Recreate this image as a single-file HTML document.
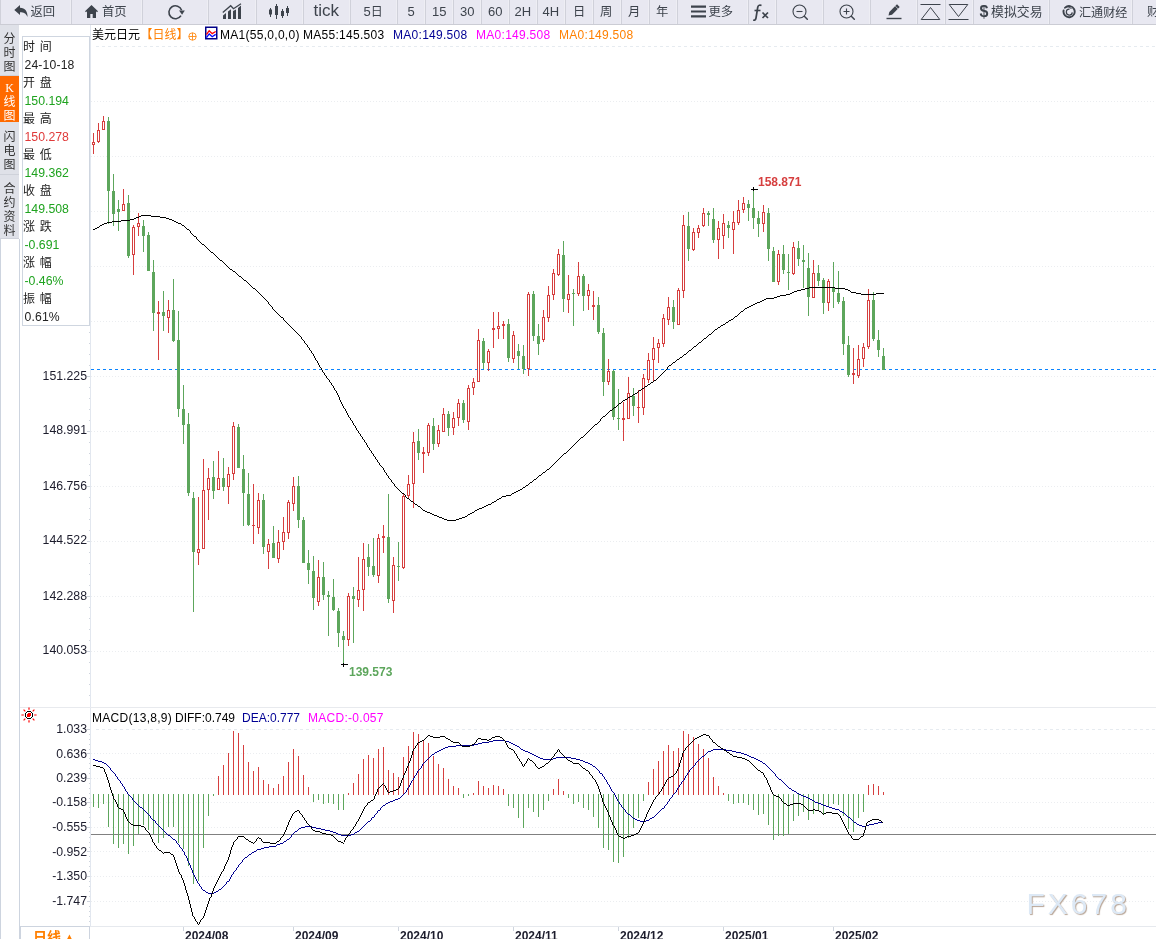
<!DOCTYPE html>
<html lang="zh-CN"><head><meta charset="utf-8"><title>美元日元 日线</title>
<style>
*{box-sizing:border-box;margin:0;padding:0}
html,body{width:1156px;height:939px;overflow:hidden;background:#fff}
body{position:relative;font-family:"Liberation Sans","Noto Sans CJK SC",sans-serif;font-size:12px;color:#111}
.chart{position:absolute;left:0;top:0}
.tb{position:absolute;left:0;top:0;width:1156px;height:25px;background:#e8e8f1;border-bottom:1px solid #cbccd4;overflow:hidden}
.b{position:absolute;top:0;height:24px;background:#e8e8f1;border-left:1px solid #d0d1da;border-right:1px solid #eeeef4}
.tb span{position:absolute;top:-.4px;height:24px;line-height:24px;color:#3d434c;font-size:12.3px;white-space:nowrap}
.tb svg{position:absolute;display:block}
.tb .en{font-size:17px;line-height:22px}
.tb .nm{font-size:13px;line-height:23px}
.tb .nm u{font-size:12px;text-decoration:none}
.tb .dl{font-size:16px;font-weight:bold;line-height:23px}
.tb .cn{font-size:12.9px}
.tb .c2{font-size:12.1px;top:.5px}
.sb{position:absolute;left:0;top:25px;width:20px;height:914px}
.tab{position:absolute;left:0;width:19px;background:#dfe1e8;color:#333;text-align:center;top:0;border-bottom:1px solid #cfd2da;display:flex;flex-direction:column;justify-content:center;padding-top:5px}
.tab b{display:block;font-weight:normal;font-size:12px;line-height:14px;height:14px}
.tab.on{background:#ff6a00;color:#fff;border-bottom:0}
.tab .k{font-family:"Liberation Serif",serif}
.sbw{position:absolute;left:0;top:214px;width:20px;height:700px;border-left:1px solid #cdd4df;border-right:1px solid #cdd4df;background:#fff}
.info{position:absolute;left:22px;top:36px;width:68px;height:290px;border:1px solid #cfd6e0;background:#fff;padding-top:1px}
.info div{height:18px;line-height:18px;white-space:nowrap;font-size:12px;padding-left:0}
.info .l{color:#222;word-spacing:1.5px}
.info .n{color:#222;padding-left:1.5px;font-size:12.2px;letter-spacing:.15px}
.info .g{color:#1fa31f;padding-left:1.5px;font-size:12.3px}
.info .r{color:#e03a3a;padding-left:1.5px;font-size:12.3px}
.title,.mt{position:absolute;left:0;top:25px;width:1156px;height:20px}
.title span,.mt span{position:absolute;top:3px;line-height:14px;font-size:12px;white-space:nowrap;color:#000;letter-spacing:.28px}
.title span.c{letter-spacing:0;top:2.7px}
.mt{top:708px}
.yl{position:absolute;left:20px;width:67px;text-align:right;font-size:12.3px;line-height:16px;height:16px;color:#1c1c2c}
.xl{position:absolute;top:927.5px;font-size:12px;font-weight:bold;line-height:16px;color:#1c1c2c}
.hi,.lo{position:absolute;font-weight:bold;font-size:12px;line-height:14px}
.hi{left:758px;top:175px;color:#d63f3f}
.lo{left:349px;top:665px;color:#5da65c}
.wm{position:absolute;left:1026.5px;top:886px;font-size:30px;line-height:36px;letter-spacing:3px;color:#dde9f6;text-shadow:1px 1px 1px #b8a596}
.per{position:absolute;left:20px;top:926px;width:70px;height:13px;border:1px solid #cdd4df;border-bottom:0;color:#ff7f00;font-weight:bold;font-size:14px;line-height:20px;padding-left:12px;white-space:nowrap;overflow:hidden}
.per .tri{font-size:13px;margin-left:2px}
</style></head>
<body>
<svg class="chart" width="1156" height="939" viewBox="0 0 1156 939" shape-rendering="crispEdges"><path d="M96 46.5H1156" stroke="#e6ebf0" stroke-dasharray="3 3"/>
<path d="M91 101.5H1156" stroke="#ebedf0" stroke-dasharray="1 2"/>
<path d="M91 156.5H1156" stroke="#ebedf0" stroke-dasharray="1 2"/>
<path d="M91 211.5H1156" stroke="#ebedf0" stroke-dasharray="1 2"/>
<path d="M91 266.5H1156" stroke="#ebedf0" stroke-dasharray="1 2"/>
<path d="M91 321.5H1156" stroke="#ebedf0" stroke-dasharray="1 2"/>
<path d="M91 376.5H1156" stroke="#ebedf0" stroke-dasharray="1 2"/>
<path d="M91 431.5H1156" stroke="#ebedf0" stroke-dasharray="1 2"/>
<path d="M91 486.5H1156" stroke="#ebedf0" stroke-dasharray="1 2"/>
<path d="M91 541.5H1156" stroke="#ebedf0" stroke-dasharray="1 2"/>
<path d="M91 596.5H1156" stroke="#ebedf0" stroke-dasharray="1 2"/>
<path d="M91 651.5H1156" stroke="#ebedf0" stroke-dasharray="1 2"/>
<path d="M96 729.5H1156" stroke="#e6ebf0" stroke-dasharray="3 3"/>
<path d="M91 753.5H1156" stroke="#ebedf0" stroke-dasharray="1 2"/>
<path d="M91 778.5H1156" stroke="#ebedf0" stroke-dasharray="1 2"/>
<path d="M91 802.5H1156" stroke="#ebedf0" stroke-dasharray="1 2"/>
<path d="M91 827.5H1156" stroke="#ebedf0" stroke-dasharray="1 2"/>
<path d="M91 851.5H1156" stroke="#ebedf0" stroke-dasharray="1 2"/>
<path d="M91 876.5H1156" stroke="#ebedf0" stroke-dasharray="1 2"/>
<path d="M91 901.5H1156" stroke="#ebedf0" stroke-dasharray="1 2"/>
<path d="M90.5 25V926" stroke="#e2e7ef"/>
<path d="M20 707.5H1156" stroke="#e8eaee"/>
<path d="M90 926.5H1156" stroke="#e6e9ee"/>
<path d="M89 332.5H90 M89 343.5H90 M89 354.5H90 M89 365.5H90 M87 376.5H90 M89 387.5H90 M89 398.5H90 M89 409.5H90 M89 420.5H90 M87 431.5H90 M89 442.5H90 M89 453.5H90 M89 464.5H90 M89 475.5H90 M87 486.5H90 M89 497.5H90 M89 508.5H90 M89 519.5H90 M89 530.5H90 M87 541.5H90 M89 552.5H90 M89 563.5H90 M89 574.5H90 M89 585.5H90 M87 596.5H90 M89 607.5H90 M89 618.5H90 M89 629.5H90 M89 640.5H90 M87 651.5H90 M89 662.5H90 M89 673.5H90 M89 684.5H90 M89 695.5H90 M87 729.5H90 M89 734.5H90 M89 739.5H90 M89 744.5H90 M89 749.5H90 M87 753.5H90 M89 758.5H90 M89 763.5H90 M89 768.5H90 M89 773.5H90 M87 778.5H90 M89 783.5H90 M89 788.5H90 M89 793.5H90 M89 798.5H90 M87 802.5H90 M89 807.5H90 M89 812.5H90 M89 817.5H90 M89 822.5H90 M87 827.5H90 M89 832.5H90 M89 837.5H90 M89 842.5H90 M89 847.5H90 M87 851.5H90 M89 856.5H90 M89 861.5H90 M89 866.5H90 M89 871.5H90 M87 876.5H90 M89 881.5H90 M89 886.5H90 M89 891.5H90 M89 896.5H90 M87 901.5H90 M89 906.5H90 M89 911.5H90 M89 916.5H90 M89 921.5H90" stroke="#cfd5de"/>
<path d="M183.5 927V931 M293.5 927V931 M398.5 927V931 M513.5 927V931 M618.5 927V931 M723.5 927V931 M833.5 927V931" stroke="#cfd5de"/>
<path d="M91 369.5H1156" stroke="#0a84ff" stroke-dasharray="3 3"/>
<path d="M91 834.5H1156" stroke="#808080"/>
<path d="M108.5 117V224 M113.5 174V226 M118.5 200V231 M128.5 195V258 M143.5 220V252 M148.5 232V271 M153.5 260V331 M163.5 291V331 M173.5 279V342 M178.5 311V417 M183.5 385V444 M188.5 413V496 M193.5 492V612 M213.5 461V499 M223.5 458V491 M238.5 424V468 M243.5 455V526 M248.5 473V526 M263.5 494V554 M273.5 526V558 M298.5 476V528 M303.5 517V563 M308.5 550V584 M313.5 556V610 M323.5 562V600 M328.5 591V636 M333.5 579V611 M338.5 608V647 M343.5 631V664 M353.5 587V643 M368.5 544V576 M373.5 538V577 M388.5 494V603 M398.5 542V581 M418.5 429V460 M433.5 418V450 M448.5 411V436 M463.5 400V423 M483.5 338V369 M508.5 319V362 M518.5 344V369 M523.5 345V374 M533.5 291V341 M538.5 324V355 M563.5 241V312 M573.5 289V326 M583.5 274V311 M598.5 297V334 M603.5 328V396 M613.5 370V420 M618.5 389V430 M633.5 388V416 M673.5 300V329 M688.5 212V261 M708.5 211V226 M713.5 208V243 M728.5 221V238 M748.5 200V221 M753.5 189V229 M758.5 211V237 M768.5 208V261 M773.5 247V282 M783.5 245V274 M788.5 254V290 M798.5 241V266 M803.5 245V288 M808.5 253V316 M818.5 265V286 M823.5 278V314 M833.5 262V308 M838.5 271V304 M843.5 297V355 M848.5 336V377 M873.5 292V341 M878.5 330V357 M883.5 348V370" stroke="#5da65c" fill="none"/>
<path d="M107 121h3V191h-3z M112 191h3V214h-3z M117 209h3V212h-3z M127 203h3V256h-3z M142 226h3V236h-3z M147 235h3V271h-3z M152 272h3V313h-3z M162 312h3V316h-3z M172 310h3V341h-3z M177 340h3V409h-3z M182 409h3V425h-3z M187 424h3V493h-3z M192 498h3V552h-3z M212 477h3V491h-3z M222 478h3V487h-3z M237 427h3V468h-3z M242 469h3V493h-3z M247 494h3V525h-3z M262 500h3V547h-3z M272 543h3V558h-3z M297 486h3V520h-3z M302 520h3V563h-3z M307 563h3V570h-3z M312 571h3V598h-3z M322 577h3V595h-3z M327 595h3V597h-3z M332 597h3V610h-3z M337 611h3V633h-3z M342 636h3V640h-3z M352 596h3V599h-3z M367 557h3V567h-3z M372 566h3V575h-3z M387 537h3V599h-3z M397 566h3V567h-3z M417 441h3V453h-3z M432 426h3V444h-3z M447 414h3V428h-3z M462 403h3V420h-3z M482 341h3V363h-3z M507 324h3V358h-3z M517 351h3V356h-3z M522 356h3V369h-3z M532 294h3V336h-3z M537 336h3V344h-3z M562 255h3V299h-3z M572 293h3V294h-3z M582 276h3V296h-3z M597 305h3V332h-3z M602 333h3V382h-3z M612 371h3V417h-3z M617 418h3V419h-3z M632 396h3V406h-3z M672 307h3V322h-3z M687 226h3V249h-3z M707 213h3V215h-3z M712 219h3V240h-3z M727 225h3V228h-3z M747 204h3V208h-3z M752 208h3V218h-3z M757 218h3V224h-3z M767 213h3V249h-3z M772 251h3V282h-3z M782 254h3V270h-3z M787 272h3V273h-3z M797 248h3V259h-3z M802 260h3V262h-3z M807 268h3V297h-3z M817 273h3V281h-3z M822 280h3V303h-3z M832 288h3V292h-3z M837 293h3V302h-3z M842 301h3V344h-3z M847 345h3V375h-3z M872 300h3V339h-3z M877 340h3V350h-3z M882 356h3V370h-3z" fill="#5da65c"/>
<path d="M93.5 133V142 M93.5 145V154 M98.5 123V130 M98.5 142V143 M103.5 116V121 M123.5 189V204 M133.5 225V227 M133.5 255V275 M138.5 213V223 M138.5 227V236 M158.5 301V312 M158.5 314V360 M168.5 300V310 M168.5 318V333 M198.5 497V549 M198.5 553V565 M203.5 459V490 M208.5 468V478 M208.5 490V520 M218.5 451V478 M228.5 467V474 M228.5 487V504 M233.5 422V426 M233.5 474V480 M253.5 484V525 M253.5 526V544 M258.5 493V500 M258.5 528V534 M268.5 539V544 M268.5 552V569 M278.5 530V542 M278.5 559V563 M283.5 517V532 M283.5 542V550 M288.5 500V502 M288.5 533V539 M293.5 477V486 M293.5 504V511 M318.5 560V577 M318.5 602V606 M348.5 593V596 M348.5 640V646 M358.5 557V590 M358.5 600V607 M363.5 543V559 M363.5 590V611 M378.5 534V538 M378.5 576V583 M383.5 525V536 M383.5 538V553 M393.5 557V565 M393.5 601V613 M403.5 493V496 M403.5 568V569 M408.5 475V484 M408.5 496V498 M413.5 432V442 M413.5 484V508 M423.5 447V452 M423.5 454V473 M428.5 423V425 M428.5 453V456 M438.5 425V430 M438.5 444V447 M443.5 408V414 M453.5 412V418 M453.5 428V435 M458.5 399V403 M458.5 418V426 M468.5 385V388 M468.5 422V430 M473.5 378V382 M473.5 388V395 M478.5 329V340 M488.5 349V351 M488.5 363V371 M493.5 312V328 M493.5 330V348 M498.5 312V326 M498.5 329V339 M503.5 321V324 M503.5 326V339 M513.5 331V335 M513.5 359V363 M528.5 292V294 M528.5 369V376 M543.5 310V317 M543.5 340V342 M548.5 286V295 M548.5 318V322 M553.5 269V273 M553.5 295V300 M558.5 249V254 M558.5 275V276 M568.5 275V294 M568.5 300V313 M578.5 262V276 M578.5 294V296 M588.5 284V290 M588.5 296V310 M593.5 291V305 M593.5 307V320 M608.5 359V371 M608.5 382V385 M623.5 402V418 M623.5 420V441 M628.5 377V393 M638.5 390V407 M638.5 408V423 M643.5 374V378 M643.5 408V415 M648.5 353V360 M648.5 380V383 M653.5 337V348 M653.5 360V382 M658.5 339V343 M658.5 348V363 M663.5 314V318 M663.5 344V347 M668.5 297V307 M668.5 320V325 M678.5 288V290 M683.5 215V225 M683.5 291V298 M693.5 228V232 M693.5 250V251 M698.5 225V228 M698.5 233V238 M703.5 208V213 M703.5 226V227 M718.5 221V228 M718.5 240V259 M723.5 214V223 M723.5 236V249 M733.5 211V222 M733.5 230V254 M738.5 200V210 M738.5 223V225 M743.5 197V203 M743.5 210V213 M763.5 205V212 M763.5 224V232 M778.5 250V254 M778.5 282V285 M793.5 242V247 M793.5 274V275 M813.5 260V273 M828.5 279V281 M828.5 303V311 M853.5 348V373 M853.5 375V384 M858.5 345V359 M858.5 376V378 M863.5 343V347 M863.5 359V367 M868.5 289V300 M868.5 347V349" stroke="#d63f3f" fill="none"/>
<path d="M92.5 142.5h2V144.5h-2z M97.5 130.5h2V141.5h-2z M102.5 121.5h2V129.5h-2z M122.5 204.5h2V210.5h-2z M132.5 227.5h2V254.5h-2z M137.5 223.5h2V226.5h-2z M167.5 310.5h2V317.5h-2z M197.5 549.5h2V552.5h-2z M202.5 490.5h2V548.5h-2z M207.5 478.5h2V489.5h-2z M217.5 478.5h2V489.5h-2z M227.5 474.5h2V486.5h-2z M232.5 426.5h2V473.5h-2z M257.5 500.5h2V527.5h-2z M267.5 544.5h2V551.5h-2z M277.5 542.5h2V558.5h-2z M282.5 532.5h2V541.5h-2z M287.5 502.5h2V532.5h-2z M292.5 486.5h2V503.5h-2z M317.5 577.5h2V601.5h-2z M347.5 596.5h2V639.5h-2z M357.5 590.5h2V599.5h-2z M362.5 559.5h2V589.5h-2z M377.5 538.5h2V575.5h-2z M392.5 565.5h2V600.5h-2z M402.5 496.5h2V567.5h-2z M407.5 484.5h2V495.5h-2z M412.5 442.5h2V483.5h-2z M427.5 425.5h2V452.5h-2z M437.5 430.5h2V443.5h-2z M442.5 414.5h2V431.5h-2z M452.5 418.5h2V427.5h-2z M457.5 403.5h2V417.5h-2z M467.5 388.5h2V421.5h-2z M472.5 382.5h2V387.5h-2z M477.5 340.5h2V381.5h-2z M487.5 351.5h2V362.5h-2z M497.5 326.5h2V328.5h-2z M512.5 335.5h2V358.5h-2z M527.5 294.5h2V368.5h-2z M542.5 317.5h2V339.5h-2z M547.5 295.5h2V317.5h-2z M552.5 273.5h2V294.5h-2z M557.5 254.5h2V274.5h-2z M567.5 294.5h2V299.5h-2z M577.5 276.5h2V293.5h-2z M587.5 290.5h2V295.5h-2z M607.5 371.5h2V381.5h-2z M627.5 393.5h2V418.5h-2z M642.5 378.5h2V407.5h-2z M647.5 360.5h2V379.5h-2z M652.5 348.5h2V359.5h-2z M657.5 343.5h2V347.5h-2z M662.5 318.5h2V343.5h-2z M667.5 307.5h2V319.5h-2z M677.5 290.5h2V324.5h-2z M682.5 225.5h2V290.5h-2z M692.5 232.5h2V249.5h-2z M697.5 228.5h2V232.5h-2z M702.5 213.5h2V225.5h-2z M717.5 228.5h2V239.5h-2z M722.5 223.5h2V235.5h-2z M732.5 222.5h2V229.5h-2z M737.5 210.5h2V222.5h-2z M742.5 203.5h2V209.5h-2z M762.5 212.5h2V223.5h-2z M777.5 254.5h2V281.5h-2z M792.5 247.5h2V273.5h-2z M812.5 273.5h2V297.5h-2z M827.5 281.5h2V302.5h-2z M857.5 359.5h2V375.5h-2z M862.5 347.5h2V358.5h-2z M867.5 300.5h2V346.5h-2z" stroke="#d63f3f" fill="#fff"/>
<path d="M157 312h3V314h-3z M252 525h3V526h-3z M382 536h3V538h-3z M422 452h3V454h-3z M492 328h3V330h-3z M502 324h3V326h-3z M592 305h3V307h-3z M622 418h3V420h-3z M637 407h3V408h-3z M852 373h3V375h-3z" fill="#d63f3f"/>
<path d="M141 215.5H151M139 216.5H141M151 216.5H160M136 217.5H139M160 217.5H166M134 218.5H136M166 218.5H169M130 219.5H134M169 219.5H172M121 220.5H130M172 220.5H174M112 221.5H121M174 221.5H176M107 222.5H112M176 222.5H178M104 223.5H107M178 223.5H181M102 224.5H104M100 225.5H102M182 225.5H184M97 227.5H99M95 228.5H97M93 229.5H95M187 229.5H189M194 236.5H196M202 244.5H204M211 252.5H213M220 260.5H222M230 269.5H232M233 271.5H235M239 276.5H241M244 280.5H246M809 287.5H835M253 288.5H255M805 288.5H809M835 288.5H845M801 289.5H805M845 289.5H848M797 290.5H801M848 290.5H850M794 291.5H797M792 292.5H794M851 292.5H856M790 293.5H792M856 293.5H861M876 293.5H884M786 294.5H790M861 294.5H876M780 295.5H786M777 296.5H780M774 297.5H777M766 298.5H774M764 299.5H766M762 300.5H764M760 301.5H762M757 302.5H760M755 303.5H757M753 304.5H755M751 305.5H753M749 306.5H751M747 307.5H749M745 308.5H747M741 311.5H743M735 316.5H737M281 317.5H283M731 319.5H733M729 320.5H731M726 322.5H728M723 324.5H725M721 325.5H723M718 327.5H720M715 329.5H717M709 334.5H711M704 338.5H706M699 342.5H701M694 346.5H696M689 350.5H691M684 354.5H686M680 357.5H682M677 359.5H679M673 362.5H675M669 365.5H671M654 380.5H656M651 382.5H653M648 384.5H650M645 386.5H647M642 388.5H644M639 390.5H641M635 393.5H637M633 394.5H635M630 396.5H632M628 397.5H630M625 399.5H627M623 400.5H625M619 403.5H621M614 407.5H616M610 410.5H612M603 416.5H605M595 424.5H597M581 437.5H583M564 453.5H566M547 469.5H549M543 472.5H545M539 475.5H541M534 479.5H536M530 482.5H532M526 485.5H528M523 487.5H525M520 489.5H522M518 490.5H520M516 491.5H518M514 492.5H516M402 493.5H404M512 493.5H514M506 495.5H511M502 496.5H506M407 498.5H409M499 498.5H501M497 499.5H499M411 501.5H413M494 501.5H496M492 502.5H494M415 504.5H417M488 504.5H491M486 505.5H488M418 506.5H420M484 506.5H486M482 507.5H484M479 508.5H482M477 509.5H479M423 510.5H425M475 510.5H477M425 511.5H427M427 512.5H430M472 512.5H474M430 513.5H432M470 513.5H472M432 514.5H434M468 514.5H470M434 515.5H437M437 516.5H439M465 516.5H467M439 517.5H442M462 517.5H465M442 518.5H444M459 518.5H462M444 519.5H447M456 519.5H459M447 520.5H456M99.5 226V227M181.5 224V225M184.5 226V227M185.5 227V228M186.5 228V229M189.5 230V231M190.5 231V233M191.5 233V234M192.5 234V235M193.5 235V236M196.5 237V239M197.5 239V240M198.5 240V241M199.5 241V242M200.5 242V243M201.5 243V244M204.5 245V246M205.5 246V247M206.5 247V248M207.5 248V249M208.5 249V250M209.5 250V251M210.5 251V252M213.5 253V254M214.5 254V255M215.5 255V256M216.5 256V257M217.5 257V258M218.5 258V259M219.5 259V260M222.5 261V262M223.5 262V263M224.5 263V264M225.5 264V265M226.5 265V266M227.5 266V267M228.5 267V268M229.5 268V269M232.5 270V271M235.5 272V273M236.5 273V274M237.5 274V275M238.5 275V276M241.5 277V278M242.5 278V279M243.5 279V280M246.5 281V282M247.5 282V283M248.5 283V284M249.5 284V285M250.5 285V286M251.5 286V287M252.5 287V288M255.5 289V290M256.5 290V291M257.5 291V292M258.5 292V293M259.5 293V294M260.5 294V295M261.5 295V296M262.5 296V297M263.5 297V298M264.5 298V299M265.5 299V300M266.5 300V301M267.5 301V302M268.5 302V304M269.5 304V305M270.5 305V306M271.5 306V307M272.5 307V309M273.5 309V310M274.5 310V311M275.5 311V312M276.5 312V313M277.5 313V314M278.5 314V315M279.5 315V316M280.5 316V317M283.5 318V320M284.5 320V321M285.5 321V322M286.5 322V323M287.5 323V324M288.5 324V325M289.5 325V326M290.5 326V327M291.5 327V328M292.5 328V329M293.5 329V330M294.5 330V331M295.5 331V332M296.5 332V333M297.5 333V334M298.5 334V335M299.5 335V336M300.5 336V337M301.5 337V339M302.5 339V340M303.5 340V341M304.5 341V343M305.5 343V344M306.5 344V345M307.5 345V347M308.5 347V348M309.5 348V350M310.5 350V351M311.5 351V353M312.5 353V354M313.5 354V356M314.5 356V358M315.5 358V360M316.5 360V361M317.5 361V363M318.5 363V365M319.5 365V367M320.5 367V368M321.5 368V370M322.5 370V372M323.5 372V373M324.5 373V375M325.5 375V376M326.5 376V378M327.5 378V379M328.5 379V380M329.5 380V382M330.5 382V383M331.5 383V385M332.5 385V386M333.5 386V388M334.5 388V390M335.5 390V391M336.5 391V393M337.5 393V395M338.5 395V397M339.5 397V400M340.5 400V402M341.5 402V404M342.5 404V406M343.5 406V408M344.5 408V409M345.5 409V411M346.5 411V413M347.5 413V415M348.5 415V417M349.5 417V418M350.5 418V420M351.5 420V421M352.5 421V423M353.5 423V425M354.5 425V426M355.5 426V428M356.5 428V430M357.5 430V431M358.5 431V433M359.5 433V434M360.5 434V436M361.5 436V437M362.5 437V439M363.5 439V440M364.5 440V442M365.5 442V443M366.5 443V445M367.5 445V447M368.5 447V448M369.5 448V450M370.5 450V451M371.5 451V453M372.5 453V454M373.5 454V456M374.5 456V457M375.5 457V459M376.5 459V460M377.5 460V462M378.5 462V463M379.5 463V465M380.5 465V466M381.5 466V467M382.5 467V468M383.5 468V470M384.5 470V472M385.5 472V473M386.5 473V475M387.5 475V476M388.5 476V478M389.5 478V479M390.5 479V480M391.5 480V482M392.5 482V483M393.5 483V484M394.5 484V486M395.5 486V487M396.5 487V488M397.5 488V489M398.5 489V490M399.5 490V491M400.5 491V492M401.5 492V493M404.5 494V495M405.5 495V497M406.5 497V498M409.5 499V500M410.5 500V501M413.5 502V503M414.5 503V504M417.5 505V506M420.5 507V508M421.5 508V509M422.5 509V510M467.5 515V516M474.5 511V512M491.5 503V504M496.5 500V501M501.5 497V498M511.5 494V495M522.5 488V489M525.5 486V487M528.5 484V485M529.5 483V484M532.5 481V482M533.5 480V481M536.5 478V479M537.5 477V478M538.5 476V477M541.5 474V475M542.5 473V474M545.5 471V472M546.5 470V471M549.5 468V469M550.5 467V468M551.5 466V467M552.5 465V466M553.5 464V465M554.5 463V464M555.5 462V463M556.5 461V462M557.5 460V461M558.5 459V460M559.5 458V459M560.5 457V458M561.5 456V457M562.5 455V456M563.5 454V455M566.5 452V453M567.5 451V452M568.5 450V451M569.5 449V450M570.5 448V449M571.5 447V448M572.5 446V447M573.5 445V446M574.5 444V445M575.5 443V444M576.5 442V443M577.5 441V442M578.5 440V441M579.5 439V440M580.5 438V439M583.5 436V437M584.5 435V436M585.5 434V435M586.5 433V434M587.5 432V433M588.5 431V432M589.5 430V431M590.5 429V430M591.5 428V429M592.5 427V428M593.5 426V427M594.5 425V426M597.5 423V424M598.5 422V423M599.5 421V422M600.5 419V421M601.5 418V419M602.5 417V418M605.5 415V416M606.5 414V415M607.5 413V414M608.5 412V413M609.5 411V412M612.5 409V410M613.5 408V409M616.5 406V407M617.5 405V406M618.5 404V405M621.5 402V403M622.5 401V402M627.5 398V399M632.5 395V396M637.5 392V393M638.5 391V392M641.5 389V390M644.5 387V388M647.5 385V386M650.5 383V384M653.5 381V382M656.5 379V380M657.5 378V379M658.5 377V378M659.5 376V377M660.5 375V376M661.5 374V375M662.5 373V374M663.5 372V373M664.5 371V372M665.5 370V371M666.5 369V370M667.5 367V369M668.5 366V367M671.5 364V365M672.5 363V364M675.5 361V362M676.5 360V361M679.5 358V359M682.5 356V357M683.5 355V356M686.5 353V354M687.5 352V353M688.5 351V352M691.5 349V350M692.5 348V349M693.5 347V348M696.5 345V346M697.5 344V345M698.5 343V344M701.5 341V342M702.5 340V341M703.5 339V340M706.5 337V338M707.5 336V337M708.5 335V336M711.5 333V334M712.5 332V333M713.5 331V332M714.5 330V331M717.5 328V329M720.5 326V327M725.5 323V324M728.5 321V322M733.5 318V319M734.5 317V318M737.5 315V316M738.5 314V315M739.5 313V314M740.5 312V313M743.5 310V311M744.5 309V310M850.5 291V292" stroke="#000" fill="none"/>
<path d="M93.5 794V807 M98.5 794V808 M103.5 794V804 M108.5 794V827 M113.5 794V844 M118.5 794V848 M123.5 794V844 M128.5 794V854 M133.5 794V846 M138.5 794V834 M143.5 794V825 M148.5 794V830 M153.5 794V834 M158.5 794V843 M163.5 794V838 M168.5 794V827 M173.5 794V827 M178.5 794V843 M183.5 794V849 M188.5 794V866 M193.5 794V884 M198.5 794V881 M203.5 794V848 M208.5 794V816 M213.5 794V796 M313.5 794V802 M318.5 794V800 M323.5 794V804 M328.5 794V803 M333.5 794V804 M338.5 794V810 M343.5 794V810 M463.5 794V798 M468.5 794V796 M508.5 794V806 M513.5 794V808 M518.5 794V818 M523.5 794V828 M528.5 794V808 M533.5 794V812 M538.5 794V817 M543.5 794V810 M548.5 794V801 M568.5 794V798 M573.5 794V804 M578.5 794V802 M583.5 794V808 M588.5 794V810 M593.5 794V817 M598.5 794V828 M603.5 794V848 M608.5 794V850 M613.5 794V862 M618.5 794V863 M623.5 794V857 M628.5 794V838 M633.5 794V828 M638.5 794V818 M643.5 794V801 M728.5 794V801 M733.5 794V804 M738.5 794V803 M743.5 794V803 M748.5 794V805 M753.5 794V810 M758.5 794V815 M763.5 794V814 M768.5 794V825 M773.5 794V840 M778.5 794V836 M783.5 794V836 M788.5 794V834 M793.5 794V821 M798.5 794V816 M803.5 794V812 M808.5 794V820 M813.5 794V814 M818.5 794V810 M823.5 794V814 M828.5 794V806 M833.5 794V804 M838.5 794V805 M843.5 794V816 M848.5 794V829 M853.5 794V832 M858.5 794V818 M863.5 794V812" stroke="#5da65c" fill="none"/>
<path d="M218.5 795V776 M223.5 795V765 M228.5 795V753 M233.5 795V731 M238.5 795V733 M243.5 795V745 M248.5 795V762 M253.5 795V771 M258.5 795V767 M263.5 795V780 M268.5 795V784 M273.5 795V788 M278.5 795V784 M283.5 795V776 M288.5 795V762 M293.5 795V749 M298.5 795V756 M303.5 795V775 M308.5 795V787 M348.5 795V793 M353.5 795V783 M358.5 795V774 M363.5 795V759 M368.5 795V755 M373.5 795V758 M378.5 795V749 M383.5 795V747 M388.5 795V770 M393.5 795V773 M398.5 795V777 M403.5 795V757 M408.5 795V746 M413.5 795V732 M418.5 795V734 M423.5 795V740 M428.5 795V743 M433.5 795V756 M438.5 795V764 M443.5 795V768 M448.5 795V779 M453.5 795V786 M458.5 795V788 M473.5 795V793 M478.5 795V781 M483.5 795V786 M488.5 795V788 M493.5 795V785 M498.5 795V786 M503.5 795V789 M553.5 795V789 M558.5 795V779 M563.5 795V791 M648.5 795V782 M653.5 795V769 M658.5 795V761 M663.5 795V751 M668.5 795V745 M673.5 795V751 M678.5 795V748 M683.5 795V731 M688.5 795V734 M693.5 795V737 M698.5 795V744 M703.5 795V749 M708.5 795V758 M713.5 795V777 M718.5 795V786 M723.5 795V793 M868.5 795V785 M873.5 795V784 M878.5 795V786 M883.5 795V792" stroke="#d63f3f" fill="none"/>
<path d="M493 740.5H505M489 741.5H493M505 741.5H509M482 742.5H489M509 742.5H511M478 743.5H482M511 743.5H513M474 744.5H478M513 744.5H515M456 745.5H474M515 745.5H517M448 746.5H456M517 746.5H519M445 747.5H448M443 748.5H445M441 749.5H443M521 749.5H523M713 749.5H726M439 750.5H441M523 750.5H525M711 750.5H713M726 750.5H732M437 751.5H439M525 751.5H528M708 751.5H711M732 751.5H736M435 752.5H437M528 752.5H530M736 752.5H741M530 753.5H532M741 753.5H744M432 754.5H434M532 754.5H534M744 754.5H747M534 755.5H536M747 755.5H749M536 756.5H538M702 756.5H704M749 756.5H751M538 757.5H540M556 757.5H571M751 757.5H754M540 758.5H543M553 758.5H556M571 758.5H576M754 758.5H756M93 759.5H95M543 759.5H553M576 759.5H580M756 759.5H758M95 760.5H98M580 760.5H583M758 760.5H760M98 761.5H102M583 761.5H585M760 761.5H762M102 762.5H104M585 762.5H588M104 763.5H106M588 763.5H590M763 763.5H765M590 764.5H592M593 766.5H595M600 773.5H602M779 779.5H781M789 788.5H791M792 790.5H794M794 791.5H796M797 793.5H799M799 794.5H801M801 795.5H803M803 796.5H806M806 797.5H808M398 798.5H400M808 798.5H810M395 799.5H398M810 799.5H812M393 800.5H395M812 800.5H814M390 801.5H393M388 802.5H390M815 802.5H818M386 803.5H388M818 803.5H821M821 804.5H823M383 805.5H385M823 805.5H826M826 806.5H829M140 807.5H142M829 807.5H832M662 808.5H664M832 808.5H835M835 809.5H839M378 810.5H380M840 811.5H842M842 812.5H844M628 814.5H630M372 817.5H374M652 817.5H654M848 817.5H850M633 818.5H635M650 818.5H652M635 819.5H637M153 820.5H155M637 820.5H640M646 820.5H649M368 821.5H370M640 821.5H646M854 822.5H856M878 822.5H883M874 823.5H878M857 824.5H859M869 824.5H874M859 825.5H862M866 825.5H869M305 826.5H312M862 826.5H866M301 827.5H305M312 827.5H316M299 828.5H301M316 828.5H321M321 829.5H325M325 830.5H330M295 831.5H297M330 831.5H333M357 831.5H359M333 832.5H336M355 832.5H357M336 833.5H338M338 834.5H341M351 834.5H354M168 835.5H170M341 835.5H351M173 839.5H175M287 839.5H289M284 841.5H286M280 843.5H283M277 844.5H280M269 846.5H276M264 847.5H269M261 848.5H264M257 849.5H261M254 851.5H256M252 852.5H254M249 854.5H251M245 857.5H247M227 881.5H229M219 889.5H221M203 890.5H205M216 891.5H218M206 892.5H208M214 892.5H216M208 893.5H214M106.5 764V765M107.5 765V766M108.5 766V767M109.5 767V768M110.5 768V770M111.5 770V771M112.5 771V772M113.5 772V773M114.5 773V774M115.5 774V776M116.5 776V777M117.5 777V779M118.5 779V780M119.5 780V781M120.5 781V783M121.5 783V784M122.5 784V786M123.5 786V787M124.5 787V789M125.5 789V791M126.5 791V792M127.5 792V794M128.5 794V795M129.5 795V796M130.5 796V797M131.5 797V798M132.5 798V800M133.5 800V801M134.5 801V802M135.5 802V803M136.5 803V804M137.5 804V805M138.5 805V806M139.5 806V807M142.5 808V809M143.5 809V810M144.5 810V811M145.5 811V812M146.5 812V813M147.5 813V814M148.5 814V815M149.5 815V816M150.5 816V818M151.5 818V819M152.5 819V820M155.5 821V823M156.5 823V824M157.5 824V825M158.5 825V826M159.5 826V827M160.5 827V828M161.5 828V829M162.5 829V830M163.5 830V831M164.5 831V832M165.5 832V833M166.5 833V834M167.5 834V835M170.5 836V837M171.5 837V838M172.5 838V839M175.5 840V841M176.5 841V843M177.5 843V844M178.5 844V845M179.5 845V847M180.5 847V848M181.5 848V849M182.5 849V851M183.5 851V852M184.5 852V855M185.5 855V856M186.5 856V858M187.5 858V861M188.5 861V863M189.5 863V865M190.5 865V868M191.5 868V870M192.5 870V873M193.5 873V875M194.5 875V877M195.5 877V879M196.5 879V881M197.5 881V883M198.5 883V884M199.5 884V886M200.5 886V887M201.5 887V889M202.5 889V890M205.5 891V892M218.5 890V891M221.5 888V889M222.5 887V888M223.5 886V887M224.5 885V886M225.5 884V885M226.5 882V884M229.5 879V881M230.5 877V879M231.5 875V877M232.5 874V875M233.5 872V874M234.5 871V872M235.5 870V871M236.5 868V870M237.5 867V868M238.5 865V867M239.5 864V865M240.5 863V864M241.5 862V863M242.5 860V862M243.5 859V860M244.5 858V859M247.5 856V857M248.5 855V856M251.5 853V854M256.5 850V851M276.5 845V846M283.5 842V843M286.5 840V841M289.5 838V839M290.5 837V838M291.5 835V837M292.5 834V835M293.5 833V834M294.5 832V833M297.5 830V831M298.5 829V830M354.5 833V834M359.5 830V831M360.5 829V830M361.5 828V829M362.5 827V828M363.5 826V827M364.5 825V826M365.5 824V825M366.5 823V824M367.5 822V823M370.5 820V821M371.5 818V820M374.5 815V817M375.5 814V815M376.5 813V814M377.5 811V813M380.5 808V810M381.5 807V808M382.5 806V807M385.5 804V805M400.5 797V798M401.5 796V797M402.5 795V796M403.5 794V795M404.5 793V794M405.5 792V793M406.5 790V792M407.5 788V790M408.5 787V788M409.5 785V787M410.5 783V785M411.5 781V783M412.5 780V781M413.5 778V780M414.5 776V778M415.5 775V776M416.5 773V775M417.5 771V773M418.5 770V771M419.5 769V770M420.5 768V769M421.5 766V768M422.5 764V766M423.5 763V764M424.5 762V763M425.5 761V762M426.5 760V761M427.5 759V760M428.5 758V759M429.5 757V758M430.5 756V757M431.5 755V756M434.5 753V754M519.5 747V748M520.5 748V749M592.5 765V766M595.5 767V768M596.5 768V769M597.5 769V770M598.5 770V771M599.5 771V773M602.5 774V776M603.5 776V777M604.5 777V779M605.5 779V780M606.5 780V782M607.5 782V784M608.5 784V785M609.5 785V787M610.5 787V789M611.5 789V791M612.5 791V792M613.5 792V793M614.5 793V795M615.5 795V797M616.5 797V799M617.5 799V801M618.5 801V802M619.5 802V804M620.5 804V805M621.5 805V807M622.5 807V808M623.5 808V809M624.5 809V810M625.5 810V812M626.5 812V813M627.5 813V814M630.5 815V816M631.5 816V817M632.5 817V818M649.5 819V820M654.5 816V817M655.5 815V816M656.5 814V815M657.5 813V814M658.5 812V813M659.5 811V812M660.5 810V811M661.5 809V810M664.5 806V808M665.5 805V806M666.5 804V805M667.5 802V804M668.5 801V802M669.5 799V801M670.5 798V799M671.5 797V798M672.5 795V797M673.5 794V795M674.5 793V794M675.5 792V793M676.5 790V792M677.5 788V790M678.5 787V788M679.5 785V787M680.5 784V785M681.5 782V784M682.5 781V782M683.5 780V781M684.5 778V780M685.5 776V778M686.5 775V776M687.5 773V775M688.5 772V773M689.5 770V772M690.5 769V770M691.5 768V769M692.5 767V768M693.5 766V767M694.5 765V766M695.5 763V765M696.5 762V763M697.5 761V762M698.5 760V761M699.5 759V760M700.5 758V759M701.5 757V758M704.5 755V756M705.5 754V755M706.5 753V754M707.5 752V753M762.5 762V763M765.5 764V765M766.5 765V766M767.5 766V767M768.5 767V768M769.5 768V769M770.5 769V770M771.5 770V771M772.5 771V772M773.5 772V773M774.5 773V774M775.5 774V776M776.5 776V777M777.5 777V778M778.5 778V779M781.5 780V781M782.5 781V782M783.5 782V783M784.5 783V784M785.5 784V785M786.5 785V786M787.5 786V787M788.5 787V788M791.5 789V790M796.5 792V793M814.5 801V802M839.5 810V811M844.5 813V814M845.5 814V815M846.5 815V816M847.5 816V817M850.5 818V819M851.5 819V820M852.5 820V821M853.5 821V822M856.5 823V824" stroke="#000090" fill="none"/>
<path d="M703 734.5H706M428 735.5H430M701 735.5H703M706 735.5H709M430 736.5H433M440 736.5H445M495 736.5H500M699 736.5H701M433 737.5H440M492 737.5H495M500 737.5H502M697 737.5H699M446 738.5H448M478 738.5H481M695 738.5H697M448 739.5H450M481 739.5H487M489 739.5H491M422 740.5H424M487 740.5H489M420 741.5H422M451 741.5H453M418 742.5H420M453 742.5H459M713 742.5H715M472 744.5H474M470 745.5H472M462 746.5H470M718 746.5H720M509 748.5H511M721 748.5H723M511 749.5H513M724 750.5H726M727 752.5H729M730 754.5H732M733 756.5H737M737 757.5H742M742 758.5H745M745 759.5H747M530 760.5H532M568 760.5H570M747 760.5H749M570 761.5H572M546 763.5H548M573 763.5H579M93 765.5H96M96 766.5H100M542 766.5H544M100 767.5H103M540 767.5H542M538 768.5H540M583 768.5H585M586 770.5H588M758 770.5H760M761 772.5H763M671 776.5H673M669 777.5H671M396 789.5H398M393 790.5H396M390 791.5H393M388 792.5H390M774 795.5H776M776 796.5H779M371 800.5H373M368 802.5H370M784 803.5H786M793 803.5H801M790 804.5H793M801 804.5H803M787 805.5H790M119 808.5H121M121 809.5H123M813 809.5H815M297 810.5H299M808 810.5H813M815 810.5H819M295 811.5H297M819 811.5H821M826 812.5H832M824 813.5H826M832 813.5H838M872 819.5H879M870 820.5H872M879 820.5H881M868 821.5H870M131 824.5H133M133 825.5H141M141 826.5H144M313 830.5H315M315 831.5H320M320 832.5H322M322 833.5H326M636 833.5H638M326 834.5H331M634 834.5H636M331 835.5H333M631 835.5H634M238 836.5H244M619 836.5H621M627 836.5H631M861 836.5H863M621 837.5H623M625 837.5H627M259 838.5H261M623 838.5H625M246 839.5H248M853 839.5H859M249 841.5H251M277 841.5H279M338 841.5H341M251 842.5H253M263 842.5H270M341 842.5H343M270 843.5H276M159 850.5H161M164 852.5H170M171 854.5H173M103.5 768V769M104.5 769V772M105.5 772V774M106.5 774V777M107.5 777V780M108.5 780V783M109.5 783V787M110.5 787V790M111.5 790V793M112.5 793V796M113.5 796V799M114.5 799V800M115.5 800V802M116.5 802V804M117.5 804V807M118.5 807V808M123.5 810V812M124.5 812V814M125.5 814V817M126.5 817V819M127.5 819V821M128.5 821V822M129.5 822V823M130.5 823V824M144.5 827V828M145.5 828V830M146.5 830V831M147.5 831V832M148.5 832V833M149.5 833V835M150.5 835V837M151.5 837V839M152.5 839V842M153.5 842V843M154.5 843V845M155.5 845V846M156.5 846V848M157.5 848V849M158.5 849V850M161.5 851V852M162.5 852V853M163.5 853V854M170.5 853V854M173.5 855V857M174.5 857V860M175.5 860V863M176.5 863V866M177.5 866V869M178.5 869V872M179.5 872V874M180.5 874V875M181.5 875V878M182.5 878V880M183.5 880V883M184.5 883V886M185.5 886V890M186.5 890V893M187.5 893V896M188.5 896V900M189.5 900V904M190.5 904V908M191.5 908V912M192.5 912V916M193.5 916V917M194.5 917V919M195.5 919V921M196.5 921V922M197.5 922V924M198.5 924V925M199.5 922V924M200.5 920V922M201.5 919V920M202.5 918V919M203.5 916V918M204.5 913V916M205.5 910V913M206.5 907V910M207.5 904V907M208.5 901V904M209.5 898V901M210.5 897V898M211.5 894V897M212.5 891V894M213.5 888V891M214.5 886V888M215.5 884V886M216.5 882V884M217.5 880V882M218.5 878V880M219.5 876V878M220.5 874V876M221.5 872V874M222.5 871V872M223.5 869V871M224.5 866V869M225.5 864V866M226.5 862V864M227.5 860V862M228.5 857V860M229.5 854V857M230.5 850V854M231.5 847V850M232.5 845V847M233.5 842V845M234.5 841V842M235.5 840V841M236.5 839V840M237.5 837V839M244.5 837V838M245.5 838V839M248.5 840V841M253.5 843V844M254.5 842V843M255.5 841V842M256.5 839V841M257.5 838V839M258.5 837V838M261.5 839V841M262.5 841V842M276.5 842V843M279.5 840V841M280.5 838V840M281.5 837V838M282.5 836V837M283.5 834V836M284.5 832V834M285.5 830V832M286.5 827V830M287.5 825V827M288.5 822V825M289.5 820V822M290.5 818V820M291.5 816V818M292.5 814V816M293.5 813V814M294.5 812V813M299.5 811V813M300.5 813V814M301.5 814V815M302.5 815V817M303.5 817V818M304.5 818V820M305.5 820V821M306.5 821V823M307.5 823V824M308.5 824V825M309.5 825V826M310.5 826V827M311.5 827V829M312.5 829V830M333.5 836V837M334.5 837V838M335.5 838V839M336.5 839V840M337.5 840V841M343.5 843V844M344.5 840V842M345.5 838V840M346.5 837V838M347.5 835V837M348.5 834V835M349.5 833V834M350.5 831V833M351.5 830V831M352.5 829V830M353.5 827V829M354.5 826V827M355.5 824V826M356.5 822V824M357.5 821V822M358.5 819V821M359.5 817V819M360.5 815V817M361.5 813V815M362.5 811V813M363.5 809V811M364.5 807V809M365.5 806V807M366.5 805V806M367.5 803V805M370.5 801V802M373.5 799V800M374.5 796V799M375.5 794V796M376.5 792V794M377.5 789V792M378.5 788V789M379.5 787V788M380.5 786V787M381.5 785V786M382.5 784V785M383.5 783V784M384.5 785V786M385.5 786V788M386.5 788V790M387.5 790V792M398.5 788V789M399.5 786V788M400.5 783V786M401.5 780V783M402.5 778V780M403.5 775V778M404.5 773V775M405.5 771V773M406.5 768V771M407.5 766V768M408.5 763V766M409.5 761V763M410.5 758V761M411.5 755V758M412.5 751V755M413.5 749V751M414.5 748V749M415.5 746V748M416.5 745V746M417.5 743V745M424.5 739V740M425.5 738V739M426.5 737V738M427.5 736V737M445.5 737V738M450.5 740V741M459.5 743V744M460.5 744V745M461.5 745V746M474.5 743V744M475.5 742V743M476.5 740V742M477.5 739V740M491.5 738V739M502.5 738V739M503.5 739V740M504.5 740V741M505.5 741V743M506.5 743V745M507.5 745V747M508.5 747V748M513.5 750V751M514.5 751V753M515.5 753V754M516.5 754V756M517.5 756V758M518.5 758V759M519.5 759V761M520.5 761V762M521.5 762V764M522.5 764V766M523.5 766V767M524.5 764V766M525.5 763V764M526.5 761V763M527.5 759V761M528.5 758V759M529.5 759V760M532.5 761V762M533.5 762V763M534.5 763V764M535.5 764V766M536.5 766V767M537.5 767V768M544.5 765V766M545.5 764V765M548.5 762V763M549.5 761V762M550.5 760V761M551.5 758V760M552.5 757V758M553.5 756V757M554.5 754V756M555.5 753V754M556.5 752V753M557.5 750V752M558.5 749V750M559.5 750V752M560.5 752V753M561.5 753V754M562.5 754V755M563.5 755V756M564.5 756V757M565.5 757V758M566.5 758V759M567.5 759V760M572.5 762V763M579.5 764V765M580.5 765V766M581.5 766V767M582.5 767V768M585.5 769V770M588.5 771V772M589.5 772V774M590.5 774V775M591.5 775V776M592.5 776V778M593.5 778V779M594.5 779V780M595.5 780V782M596.5 782V784M597.5 784V786M598.5 786V789M599.5 789V792M600.5 792V795M601.5 795V798M602.5 798V802M603.5 802V804M604.5 804V806M605.5 806V808M606.5 808V810M607.5 810V812M608.5 812V815M609.5 815V817M610.5 817V820M611.5 820V822M612.5 822V825M613.5 825V826M614.5 826V828M615.5 828V830M616.5 830V833M617.5 833V835M618.5 835V836M638.5 832V833M639.5 830V832M640.5 828V830M641.5 826V828M642.5 824V826M643.5 822V824M644.5 819V822M645.5 817V819M646.5 814V817M647.5 812V814M648.5 810V812M649.5 808V810M650.5 806V808M651.5 804V806M652.5 802V804M653.5 800V802M654.5 799V800M655.5 797V799M656.5 796V797M657.5 795V796M658.5 794V795M659.5 792V794M660.5 791V792M661.5 789V791M662.5 787V789M663.5 786V787M664.5 784V786M665.5 782V784M666.5 780V782M667.5 779V780M668.5 778V779M673.5 775V776M674.5 774V775M675.5 773V774M676.5 771V773M677.5 769V771M678.5 767V769M679.5 763V767M680.5 760V763M681.5 757V760M682.5 753V757M683.5 751V753M684.5 750V751M685.5 748V750M686.5 747V748M687.5 746V747M688.5 745V746M689.5 744V745M690.5 743V744M691.5 742V743M692.5 741V742M693.5 740V741M694.5 739V740M709.5 736V738M710.5 738V739M711.5 739V740M712.5 740V742M715.5 743V744M716.5 744V745M717.5 745V746M720.5 747V748M723.5 749V750M726.5 751V752M729.5 753V754M732.5 755V756M749.5 761V762M750.5 762V763M751.5 763V764M752.5 764V765M753.5 765V766M754.5 766V767M755.5 767V768M756.5 768V769M757.5 769V770M760.5 771V772M763.5 773V775M764.5 775V777M765.5 777V778M766.5 778V780M767.5 780V783M768.5 783V785M769.5 785V787M770.5 787V790M771.5 790V792M772.5 792V794M773.5 794V795M779.5 797V798M780.5 798V799M781.5 799V801M782.5 801V802M783.5 802V803M786.5 804V805M803.5 805V806M804.5 806V807M805.5 807V808M806.5 808V809M807.5 809V810M821.5 812V813M822.5 813V814M823.5 814V815M838.5 814V815M839.5 815V816M840.5 816V818M841.5 818V820M842.5 820V822M843.5 822V824M844.5 824V826M845.5 826V828M846.5 828V830M847.5 830V832M848.5 832V834M849.5 834V835M850.5 835V836M851.5 836V838M852.5 838V839M859.5 838V839M860.5 837V838M863.5 833V836M864.5 830V833M865.5 826V830M866.5 823V826M867.5 822V823M881.5 821V822M882.5 822V823" stroke="#000" fill="none"/>
<path d="M751 189.5H758M753.5 187V191" stroke="#000"/>
<path d="M341 664.5H348M343.5 663V667" stroke="#000"/>
<circle cx="29" cy="715" r="3.5" fill="none" stroke="#000" stroke-width="1"/>
<circle cx="29" cy="715" r="2" fill="#f00"/>
<path d="M34.2 715.0L36.6 715.0 M32.7 718.7L34.4 720.4 M29.0 720.2L29.0 722.6 M25.3 718.7L23.6 720.4 M23.8 715.0L21.4 715.0 M25.3 711.3L23.6 709.6 M29.0 709.8L29.0 707.4 M32.7 711.3L34.4 709.6" stroke="#f00" stroke-width="1.2" shape-rendering="geometricPrecision"/></svg>
<div class="tb"><div class="b" style="left:0px;width:71px"></div><div class="b" style="left:71px;width:71px"></div><div class="b" style="left:142px;width:66px"></div><div class="b" style="left:208px;width:48px"></div><div class="b" style="left:256px;width:47px"></div><div class="b" style="left:303px;width:47px"></div><div class="b" style="left:350px;width:47px"></div><div class="b" style="left:397px;width:28px"></div><div class="b" style="left:425px;width:28px"></div><div class="b" style="left:453px;width:28px"></div><div class="b" style="left:481px;width:28px"></div><div class="b" style="left:509px;width:28px"></div><div class="b" style="left:537px;width:28px"></div><div class="b" style="left:565px;width:28px"></div><div class="b" style="left:593px;width:28px"></div><div class="b" style="left:621px;width:28px"></div><div class="b" style="left:649px;width:28px"></div><div class="b" style="left:677px;width:71px"></div><div class="b" style="left:748px;width:28px"></div><div class="b" style="left:776px;width:47px"></div><div class="b" style="left:823px;width:47px"></div><div class="b" style="left:870px;width:47px"></div><div class="b" style="left:917px;width:28px"></div><div class="b" style="left:945px;width:28px"></div><div class="b" style="left:973px;width:76px"></div><div class="b" style="left:1049px;width:83px"></div><div class="b" style="left:1132px;width:84px"></div><svg style="left:14px;top:5px" width="15" height="12" viewBox="0 0 15 12"><path d="M6 0L0.3 5l5.700 5V7.2c3.8 0 5.8 1 7.600 4.8C13.600 6.5 11.2 3 6 2.8z" fill="#3d434c"/></svg><span style="left:30.5px">返回</span><svg style="left:85px;top:5px" width="13" height="13" viewBox="0 0 13 13"><path d="M6.5 0L0 6.2l1 1 1-0.900V13h3.3V9h2.400v4H11V6.3l1 0.900 1-1z" fill="#3d434c"/></svg><span style="left:102px">首页</span><svg style="left:167px;top:3px" width="19" height="17" viewBox="0 0 19 17"><path d="M14.600 7.2A6.5 6.5 0 1 0 14 12.600" fill="none" stroke="#3d434c" stroke-width="1.600"/><path d="M12 7.600h5.8l-2.700 4.2z" fill="#3d434c"/></svg><svg style="left:222px;top:3px" width="20" height="17" viewBox="0 0 20 17"><path d="M1 16V12.5l3-2.5v6zM6 16V8.5l3-2.3V16zM11 16V8l3-1.5V16zM16 16V5l3-2.5V16z" fill="#3d434c"/><path d="M0.8 9.5L8.700 2.700l2.8 3L19 0.8" fill="none" stroke="#3d434c" stroke-width="1.3"/></svg><svg style="left:268px;top:3px" width="22" height="17" viewBox="0 0 22 17"><path d="M2.5 5v9M8.5 1v15M14.5 6v9M19.5 3v10" stroke="#3d434c" stroke-width="1"/><path d="M1 6.5h3v5h-3zM7 3h3v9H7zM13 8h3v5h-3zM18 5h3v5h-3z" fill="#3d434c" rx="1"/></svg><span class="en" style="left:313.5px">tick</span><span class="nm" style="left:363.5px">5<u>日</u></span><span class="nm" style="left:407.5px">5</span><span class="nm" style="left:432px">15</span><span class="nm" style="left:460px">30</span><span class="nm" style="left:488px">60</span><span class="nm" style="left:514.5px">2H</span><span class="nm" style="left:542.5px">4H</span><span style="left:573px">日</span><span style="left:600px">周</span><span style="left:628px">月</span><span style="left:656px">年</span><svg style="left:691px;top:5px" width="15" height="13" viewBox="-0.5 0 15.5 13"><path d="M0 1.5h14.5M0 6.5h14.5M0 11.5h14.5" stroke="#3d434c" stroke-width="2.3" stroke-linecap="round"/></svg><span style="left:708.5px">更多</span><svg style="left:753px;top:2px" width="17" height="20" viewBox="0 0 17 20"><path d="M8.5 3.5C6.5 2.5 5 3.5 4.700 5.5L3 16c-0.3 2-1.5 2.5-2.8 2" fill="none" stroke="#3d434c" stroke-width="1.700"/><path d="M1.5 8.5h6" stroke="#3d434c" stroke-width="1.600"/><path d="M9.5 10.5l5.5 5.5M15 10.5L9.5 16" stroke="#3d434c" stroke-width="1.700"/></svg><svg style="left:792px;top:4px" width="17" height="17" viewBox="0 0 17 17"><circle cx="7.5" cy="7.5" r="6.5" fill="none" stroke="#3d434c" stroke-width="1.100"/><path d="M4.5 7.5h6" stroke="#3d434c" stroke-width="1.100"/><path d="M12.3 12.3l3 3" stroke="#3d434c" stroke-width="1.5" stroke-linecap="round"/></svg><svg style="left:839px;top:4px" width="17" height="17" viewBox="0 0 17 17"><circle cx="7.5" cy="7.5" r="6.5" fill="none" stroke="#3d434c" stroke-width="1.100"/><path d="M4.5 7.5h6M7.5 4.5v6" stroke="#3d434c" stroke-width="1.100"/><path d="M12.3 12.3l3 3" stroke="#3d434c" stroke-width="1.5" stroke-linecap="round"/></svg><svg style="left:886px;top:3px" width="16" height="17" viewBox="0 0 16 17"><path d="M0.5 15.5h15" stroke="#3d434c" stroke-width="1.400"/><path d="M2.5 12.5l0.8-3.5L11 1.3l2.700 2.700L6 11.700z" fill="#3d434c"/><path d="M9.2 3l2.8 2.8" stroke="#e8e8f1" stroke-width="0.700"/></svg><svg style="left:920px;top:3px" width="21" height="18" viewBox="0 0 21 18"><path d="M0.5 1.5h20" stroke="#3d434c" stroke-width="1"/><path d="M10.5 4.5L1.2 16.5h18.600z" fill="none" stroke="#3d434c" stroke-width="1"/></svg><svg style="left:948px;top:3px" width="21" height="18" viewBox="0 0 21 18"><path d="M0.5 16.5h20" stroke="#3d434c" stroke-width="1"/><path d="M10.5 13.5L1.2 1.5h18.600z" fill="none" stroke="#3d434c" stroke-width="1"/></svg><span class="dl" style="left:979.5px">$</span><span class="cn" style="left:991px">模拟交易</span><svg style="left:1062px;top:5px" width="14" height="14" viewBox="0 0 14 14"><path d="M3.2 2.600A5.600 5.600 0 1 1 1.600 5.5" fill="none" stroke="#3d434c" stroke-width="1.900" stroke-linecap="round"/><path d="M7.600 4.100a3 3 0 1 0 2.700 3.3" fill="none" stroke="#3d434c" stroke-width="1.2"/><path d="M2 3.5C4 1 8 1.5 9.5 4" fill="none" stroke="#3d434c" stroke-width="1"/></svg><span class="c2" style="left:1079px">汇通财经</span><span style="left:1147px">财经</span></div>
<div class="sb">
<div class="tab" style="top:0;height:51px"><b>分</b><b>时</b><b>图</b></div>
<div class="tab on" style="top:51px;height:46px"><b class="k">K</b><b>线</b><b>图</b></div>
<div class="tab" style="top:97px;height:53px"><b>闪</b><b>电</b><b>图</b></div>
<div class="tab" style="top:150px;height:64px;padding-top:7px"><b>合</b><b>约</b><b>资</b><b>料</b></div>
<div class="sbw"></div>
</div>
<div class="info"><div class="l">时 间</div><div class="n">24-10-18</div><div class="l">开 盘</div><div class="g">150.194</div><div class="l">最 高</div><div class="r">150.278</div><div class="l">最 低</div><div class="g">149.362</div><div class="l">收 盘</div><div class="g">149.508</div><div class="l">涨 跌</div><div class="g">-0.691</div><div class="l">涨 幅</div><div class="g">-0.46%</div><div class="l">振 幅</div><div class="n">0.61%</div></div>
<div class="title"><span class="c" style="left:92px">美元日元</span><span class="c" style="left:140.5px;color:#ff7f00">【日线】</span>
<svg style="position:absolute;left:187.3px;top:6.8px" width="11" height="11" viewBox="0 0 11 11"><circle cx="5.5" cy="4.5" r="3.700" fill="none" stroke="#ff8a14" stroke-width="0.900"/><path d="M1.8 4.5h7.400M5.5 0.8v7.400" stroke="#ff8a14" stroke-width="0.900"/></svg>
<svg style="position:absolute;left:205px;top:1px" width="13" height="14" viewBox="0 0 13 14"><rect x="0.750" y="1.250" width="11" height="11.5" fill="#fff" stroke="#000088" stroke-width="1.5"/><path d="M1.5 8.5L4.2 4.700L7.2 7.600L10.700 5.5" fill="none" stroke="#f00" stroke-width="1.3"/><path d="M1.5 11.600L4.2 7.900L7.2 10.700L10.700 8.400" fill="none" stroke="#00f" stroke-width="1.3"/></svg>
<span style="left:220px">MA1(55,0,0,0)</span><span style="left:303px">MA55:145.503</span><span style="left:393px;color:#000094">MA0:149.508</span><span style="left:476px;color:#ff00ff">MA0:149.508</span><span style="left:559px;color:#ff8000">MA0:149.508</span></div>
<div class="yl" style="top:368px">151.225</div><div class="yl" style="top:422px">148.991</div><div class="yl" style="top:478px">146.756</div><div class="yl" style="top:532px">144.522</div><div class="yl" style="top:588px">142.288</div><div class="yl" style="top:642px">140.053</div><div class="yl" style="top:721px">1.033</div><div class="yl" style="top:746px">0.636</div><div class="yl" style="top:770px">0.239</div><div class="yl" style="top:794px">-0.158</div><div class="yl" style="top:819px">-0.555</div><div class="yl" style="top:844px">-0.952</div><div class="yl" style="top:868px">-1.350</div><div class="yl" style="top:893px">-1.747</div>
<div class="xl" style="left:185px">2024/08</div><div class="xl" style="left:295px">2024/09</div><div class="xl" style="left:400px">2024/10</div><div class="xl" style="left:515px">2024/11</div><div class="xl" style="left:620px">2024/12</div><div class="xl" style="left:725px">2025/01</div><div class="xl" style="left:835px">2025/02</div>
<div class="mt"><span style="left:92px">MACD(13,8,9)</span><span style="left:175px;letter-spacing:0">DIFF:0.749</span><span style="left:242px;color:#000094;letter-spacing:0">DEA:0.777</span><span style="left:308px;color:#ff00ff">MACD:-0.057</span></div>
<div class="hi">158.871</div><div class="lo">139.573</div>
<div class="wm">FX678</div>
<div class="per"><span>日线</span><span class="tri">▲</span></div>
</body></html>
